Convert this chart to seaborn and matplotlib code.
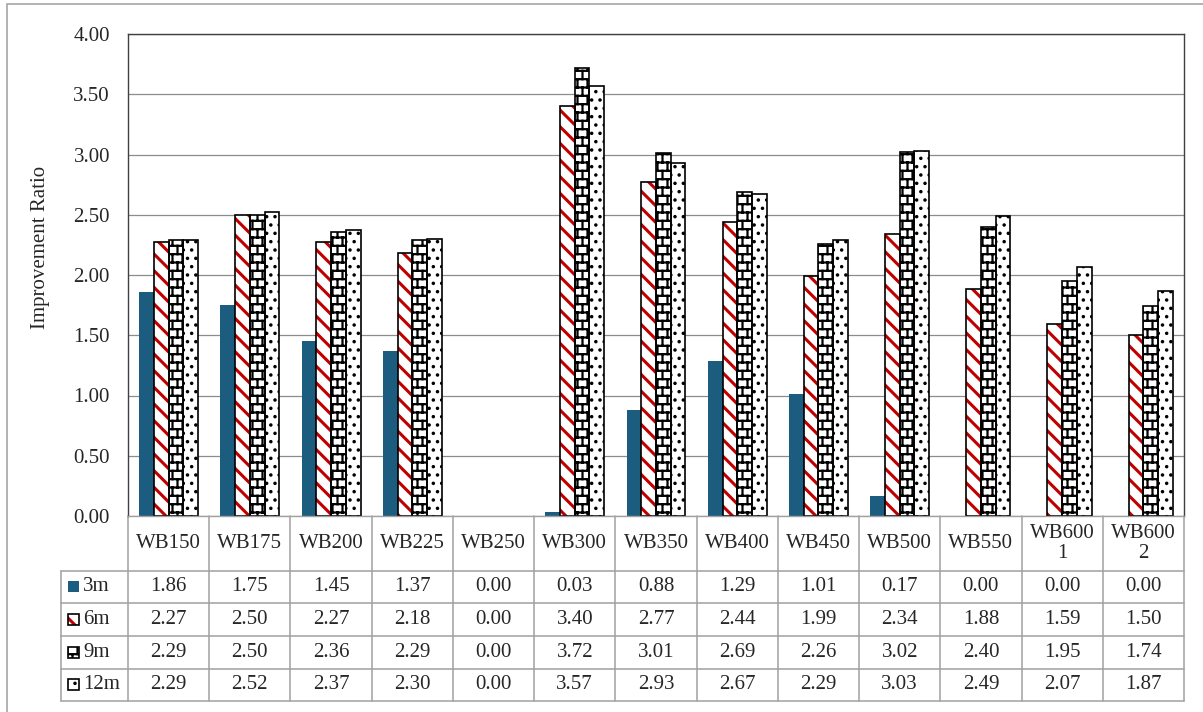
import warnings
import numpy as np
import pandas as pd
import matplotlib
matplotlib.use("Agg")
import matplotlib.pyplot as plt
import matplotlib.hatch as mhatch
import matplotlib.transforms as mtransforms
from matplotlib.path import Path
from matplotlib.patches import Rectangle
from matplotlib.lines import Line2D
import seaborn as sns

warnings.filterwarnings("ignore")

# ---------------------------------------------------------------- data
categories = ["WB150", "WB175", "WB200", "WB225", "WB250", "WB300", "WB350",
              "WB400", "WB450", "WB500", "WB550", "WB600\n1", "WB600\n2"]
series = ["3m", "6m", "9m", "12m"]
values_3m = [1.86, 1.75, 1.45, 1.37, 0.00, 0.03, 0.88, 1.29, 1.01, 0.17, 0.00, 0.00, 0.00]
values_6m = [2.27, 2.50, 2.27, 2.18, 0.00, 3.40, 2.77, 2.44, 1.99, 2.34, 1.88, 1.59, 1.50]
values_9m = [2.29, 2.50, 2.36, 2.29, 0.00, 3.72, 3.01, 2.69, 2.26, 3.02, 2.40, 1.95, 1.74]
values_12m = [2.29, 2.52, 2.37, 2.30, 0.00, 3.57, 2.93, 2.67, 2.29, 3.03, 2.49, 2.07, 1.87]
y_ticks = [0.0, 0.5, 1.0, 1.5, 2.0, 2.5, 3.0, 3.5, 4.0]

series_values = {"3m": values_3m, "6m": values_6m, "9m": values_9m, "12m": values_12m}
records = [(c, s, v) for s in series for c, v in zip(categories, series_values[s])]
df = pd.DataFrame(records, columns=["category", "series", "ratio"])


# ------------------------------------------------------ brick hatch "B"
class BrickHatch(mhatch.HatchPatternBase):
    """Running-bond brick texture: 12 courses and 10 bricks per inch."""

    def __init__(self, hatch, density):
        n = hatch.count("B")
        self.segments = []
        if n:
            rows = 2 * n * density
            cols = max(1, int(round(n * density * 10 / 6)))
            for i in range(rows):
                y = (i + 0.5) / rows
                self.segments.append(((0.0, y), (1.0, y)))
            for r in range(rows):
                off = (0.25 if r % 2 == 0 else 0.75) / cols
                y0 = (r + 0.5) / rows
                y1 = (r + 1.5) / rows
                for c in range(cols):
                    x = c / cols + off
                    if y1 <= 1.0:
                        self.segments.append(((x, y0), (x, y1)))
                    else:
                        self.segments.append(((x, y0), (x, 1.0)))
                        self.segments.append(((x, 0.0), (x, y1 - 1.0)))
        self.num_vertices = 2 * len(self.segments)

    def set_vertices_and_codes(self, vertices, codes):
        pts = np.array(self.segments, dtype=float).reshape(-1, 2)
        vertices[:] = pts
        codes[0::2] = Path.MOVETO
        codes[1::2] = Path.LINETO


mhatch._hatch_types.append(BrickHatch)

# --------------------------------------------------------------- style
sns.set_style("white")
plt.rcParams["font.family"] = ["Liberation Serif", "DejaVu Serif"]
FS = 15
TEAL = "#1c5d7f"
RED = "#c00000"
GRID = "#8c8c8c"
TABLE_LINE = "#a0a0a0"

styles = {
    "3m": dict(face=TEAL, hatch=None, hatch_color=None, hatch_lw=0),
    "6m": dict(face="white", hatch="\\\\", hatch_color=RED, hatch_lw=2.2),
    "9m": dict(face="white", hatch="B", hatch_color="black", hatch_lw=1.6),
    "12m": dict(face="white", hatch="..", hatch_color="black", hatch_lw=1.3),
}

fig = plt.figure(figsize=(12.03, 7.12), dpi=100)
ax = fig.add_axes([128 / 1203, 1 - 516 / 712, 1056 / 1203, 482 / 712])

sns.barplot(data=df, x="category", y="ratio", hue="series", order=categories,
            hue_order=series, palette=[TEAL, "white", "white", "white"],
            width=0.725, gap=0, errorbar=None, legend=False, saturation=1, ax=ax)


def style_patch(p, st):
    p.set_facecolor(st["face"])
    if st["hatch"]:
        p.set_hatch(st["hatch"])
        p.set_edgecolor(st["hatch_color"])
        if hasattr(p, "set_hatch_linewidth"):
            p.set_hatch_linewidth(st["hatch_lw"])
    p.set_linewidth(0)


def outline(xy, w, h, transform, z):
    ax.add_patch(Rectangle(xy, w, h, fill=False, edgecolor="black",
                           linewidth=1.2, zorder=z, transform=transform,
                           clip_on=False))


for s, container in zip(series, ax.containers):
    for bar in container:
        if bar.get_height() <= 0:
            bar.set_visible(False)
            continue
        style_patch(bar, styles[s])
        if styles[s]["hatch"]:
            outline(bar.get_xy(), bar.get_width(), bar.get_height(),
                    ax.transData, bar.get_zorder() + 0.1)

# --------------------------------------------------------------- axes
ax.set_xlim(-0.5, len(categories) - 0.5)
ax.set_ylim(0, 4)
ax.set_yticks(y_ticks)
ax.set_yticklabels([f"{t:.2f}" for t in y_ticks])
ax.set_xticks([])
ax.set_xlabel("")
ax.tick_params(axis="y", length=0, pad=13, labelsize=FS)
ax.yaxis.grid(True, color=GRID, linewidth=0.9)
ax.set_axisbelow(True)
for side in ("left", "top", "right"):
    ax.spines[side].set_color("#404040")
    ax.spines[side].set_linewidth(1.0)
ax.spines["bottom"].set_color(TABLE_LINE)
ax.spines["bottom"].set_linewidth(1.0)

ax.set_ylabel("Improvement Ratio", fontsize=FS)
ax.yaxis.set_label_coords(-0.083, 0.558)
ax.yaxis.label.set_verticalalignment("center")

# --------------------------------------------------------------- data table
trans = mtransforms.blended_transform_factory(ax.transData, ax.transAxes)
row_edges = [0.0, -0.1141, -0.1805, -0.2490, -0.3174, -0.3838]
label_left = -0.0634
line_kw = dict(color=TABLE_LINE, linewidth=1.1, clip_on=False)

for y in row_edges[1:]:
    ax.add_line(Line2D([label_left, 1], [y, y], transform=ax.transAxes, **line_kw))
for i in range(len(categories) + 1):
    x = i - 0.5
    ax.add_line(Line2D([x, x], [0, row_edges[-1]], transform=trans, **line_kw))
ax.add_line(Line2D([label_left, label_left], [row_edges[1], row_edges[-1]],
                   transform=ax.transAxes, **line_kw))

header_y = (row_edges[0] + row_edges[1]) / 2
for i, cat in enumerate(categories):
    ax.text(i, header_y, cat, transform=trans, ha="center", va="center",
            fontsize=FS, linespacing=1.1, clip_on=False)

sw_w, sw_h = 11 / 1056, 11 / 482
for r, s in enumerate(series):
    yc = (row_edges[r + 1] + row_edges[r + 2]) / 2
    for i, v in enumerate(series_values[s]):
        ax.text(i, yc, f"{v:.2f}", transform=trans, ha="center", va="center",
                fontsize=FS, clip_on=False)
    sw = Rectangle((-0.0568, yc - sw_h / 2), sw_w, sw_h, transform=ax.transAxes,
                   clip_on=False, zorder=3)
    ax.add_patch(sw)
    style_patch(sw, styles[s])
    if styles[s]["hatch"]:
        outline((-0.0568, yc - sw_h / 2), sw_w, sw_h, ax.transAxes, 3.1)
    ax.text(-0.0426, yc, s, transform=ax.transAxes, ha="left", va="center",
            fontsize=FS, clip_on=False)

# outer chart border
fig.add_artist(Rectangle((7 / 1203, -0.05), 1.2, 1 - 4 / 712 + 0.05,
                         transform=fig.transFigure, fill=False,
                         edgecolor="#a6a6a6", linewidth=1.2))

fig.savefig("out.png", dpi=100)
